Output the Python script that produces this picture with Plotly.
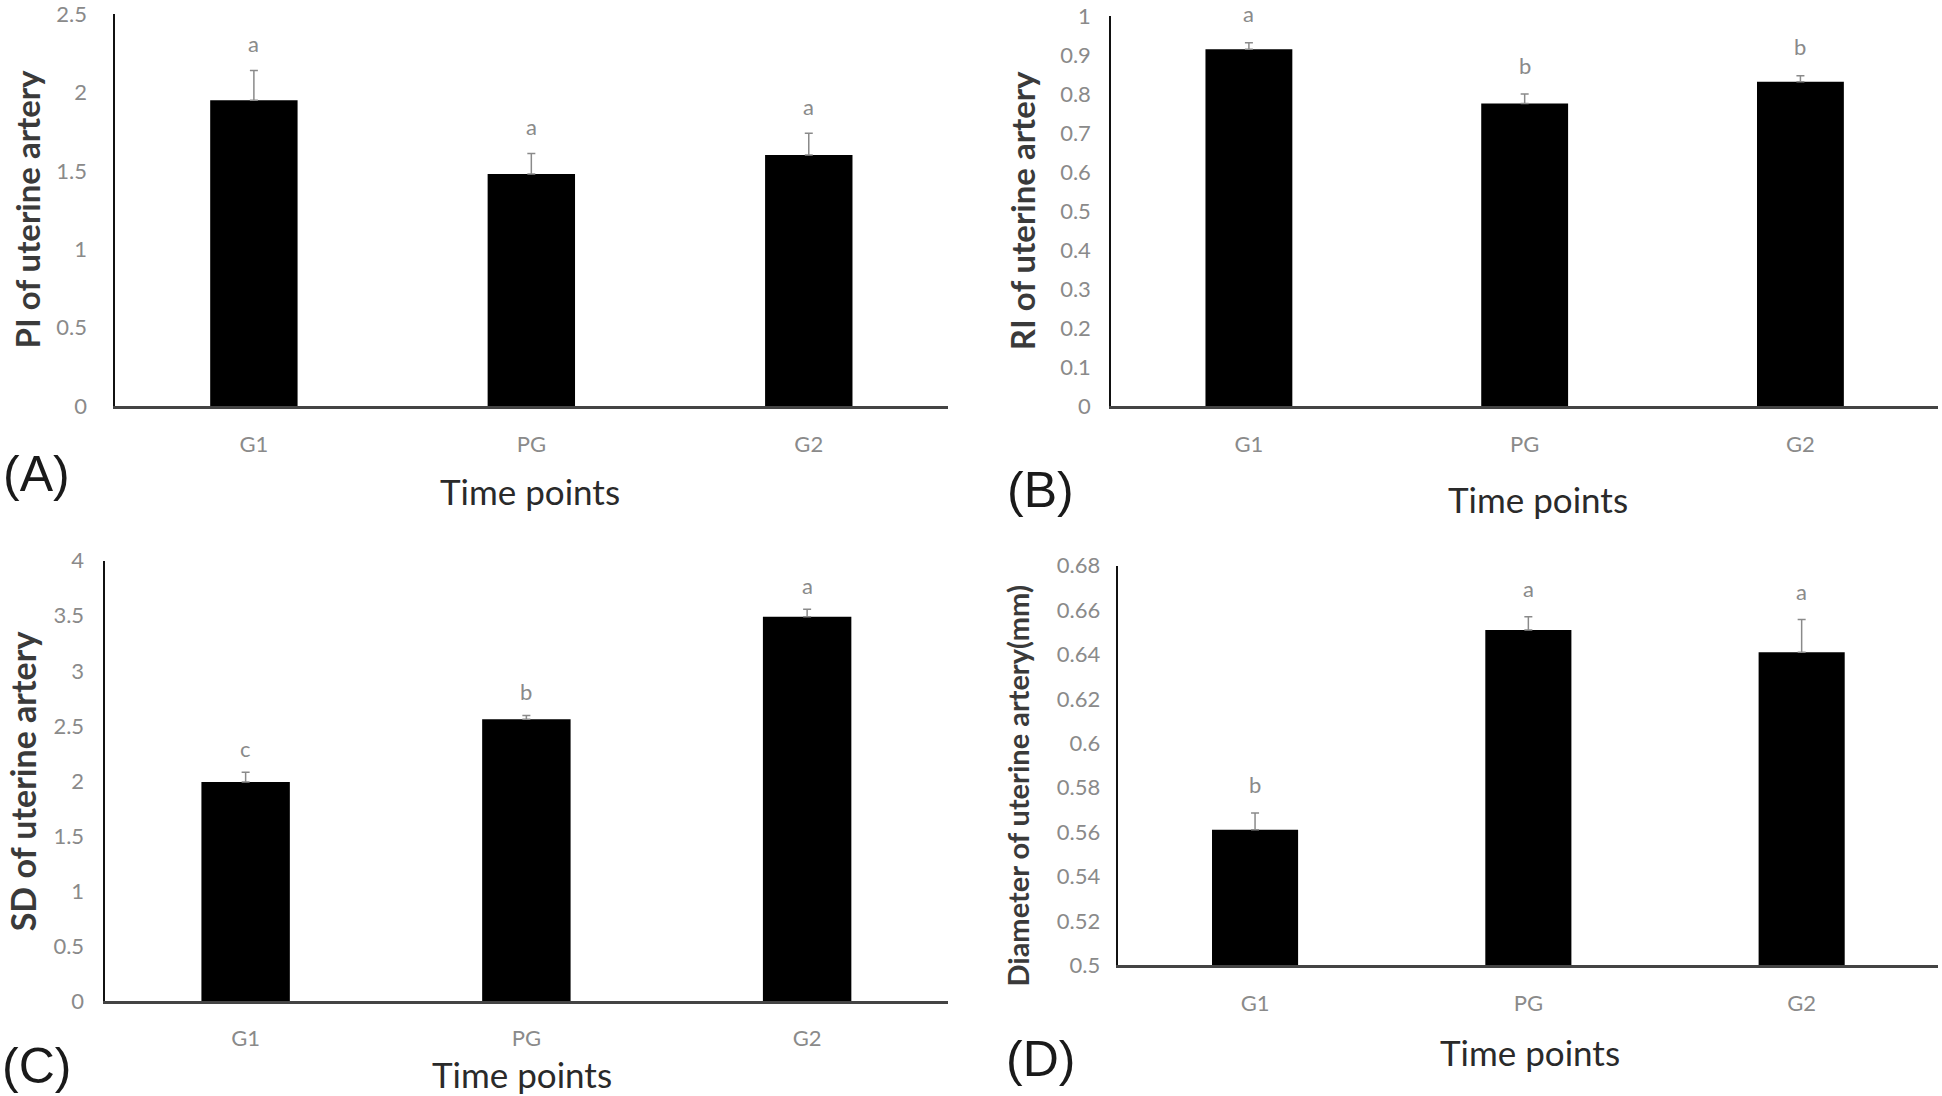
import plotly.graph_objects as go

categories = ["G1", "PG", "G2"]

pi_mean = [1.95, 1.48, 1.60]
pi_err = [0.19, 0.13, 0.14]
pi_letters = ["a", "a", "a"]

ri_mean = [0.915, 0.776, 0.832]
ri_err = [0.017, 0.024, 0.015]
ri_letters = ["a", "b", "b"]

sd_mean = [1.99, 2.56, 3.49]
sd_err = [0.09, 0.035, 0.07]
sd_letters = ["c", "b", "a"]

dia_mean = [0.561, 0.651, 0.641]
dia_err = [0.0076, 0.006, 0.0147]
dia_letters = ["b", "a", "a"]

pi_ticks = [0, 0.5, 1, 1.5, 2, 2.5]
ri_ticks = [0, 0.1, 0.2, 0.3, 0.4, 0.5, 0.6, 0.7, 0.8, 0.9, 1]
sd_ticks = [0, 0.5, 1, 1.5, 2, 2.5, 3, 3.5, 4]
dia_ticks = [0.5, 0.52, 0.54, 0.56, 0.58, 0.6, 0.62, 0.64, 0.66, 0.68]

panels = [
    dict(mean=pi_mean, err=pi_err, letters=pi_letters, ticks=pi_ticks, rng=[0, 2.5],
         xd=[0.0593, 0.4879], yd=[0.6333, 1.0], xs=17, ysoff=22, lshift=27,
         title="PI of uterine artery", tsize=33, tx=0.014, ty=0.8174,
         label="(A)", lx=0.019, ly=0.5695, tpx=0.273, tpy=0.5534),
    dict(mean=ri_mean, err=ri_err, letters=ri_letters, ticks=ri_ticks, rng=[0, 1],
         xd=[0.5721, 0.9981], yd=[0.6333, 0.998], xs=17, ysoff=14, lshift=29,
         title="RI of uterine artery", tsize=33, tx=0.526, ty=0.816,
         label="(B)", lx=0.536, ly=0.5545, tpx=0.792, tpy=0.5465),
    dict(mean=sd_mean, err=sd_err, letters=sd_letters, ticks=sd_ticks, rng=[0, 4],
         xd=[0.0542, 0.4879], yd=[0.0764, 0.4886], xs=16, ysoff=15, lshift=24,
         title="SD of uterine artery", tsize=34, tx=0.0115, ty=0.2825,
         label="(C)", lx=0.019, ly=0.0163, tpx=0.269, tpy=0.008),
    dict(mean=dia_mean, err=dia_err, letters=dia_letters, ticks=dia_ticks, rng=[0.5, 0.68],
         xd=[0.5759, 0.9981], yd=[0.1101, 0.4840], xs=17, ysoff=12, lshift=28,
         title="Diameter of uterine artery(mm)", tsize=29, tx=0.524, ty=0.2779,
         label="(D)", lx=0.536, ly=0.022, tpx=0.788, tpy=0.029),
]

fig = go.Figure()
annotations = []
tick_font = dict(family="Lato, Carlito, sans-serif", size=22, color="#8a8a8a")

for i, p in enumerate(panels):
    n = "" if i == 0 else str(i + 1)
    xa, ya = "x" + n, "y" + n
    fig.add_trace(go.Bar(
        x=categories, y=[m - p["rng"][0] for m in p["mean"]], base=p["rng"][0],
        width=0.315, marker=dict(color="black", line=dict(width=0)),
        error_y=dict(type="data", array=p["err"], arrayminus=[0, 0, 0], symmetric=False,
                     color="#8a8a8a", thickness=1.5, width=4),
        xaxis=xa, yaxis=ya, showlegend=False, hoverinfo="skip",
    ))
    fig.update_layout(**{
        "xaxis" + n: dict(domain=p["xd"], anchor=ya, showline=True, linecolor="#444",
                          linewidth=2.5, ticks="", showgrid=False, zeroline=False,
                          tickfont=tick_font, ticklabelstandoff=p["xs"],
                          range=[-0.5, 2.5], fixedrange=True),
        "yaxis" + n: dict(domain=p["yd"], anchor=xa, showline=True, linecolor="#111",
                          linewidth=1.5, ticks="", showgrid=False, zeroline=False,
                          range=p["rng"], tickvals=p["ticks"],
                          ticktext=[("%g" % t) for t in p["ticks"]],
                          ticklabeloverflow="allow",
                          tickfont=tick_font, ticklabelstandoff=p["ysoff"], fixedrange=True),
    })
    for c, m, e, L in zip(categories, p["mean"], p["err"], p["letters"]):
        annotations.append(dict(x=c, y=m + e, xref=xa, yref=ya, text=L, showarrow=False,
                                yanchor="middle", yshift=p["lshift"],
                                font=dict(family="Lato, sans-serif", size=22, color="#8a8a8a")))
    annotations.append(dict(x=p["tx"], y=p["ty"], xref="paper", yref="paper", text=p["title"],
                            textangle=-90, showarrow=False, xanchor="center", yanchor="middle",
                            font=dict(family="Lato, sans-serif", size=p["tsize"], color="#3a3a3a",
                                      weight="bold")))
    annotations.append(dict(x=p["lx"], y=p["ly"], xref="paper", yref="paper", text=p["label"],
                            showarrow=False, xanchor="center", yanchor="middle",
                            font=dict(family="Liberation Sans, Arial, sans-serif", size=50,
                                      color="#1a1a1a")))
    annotations.append(dict(x=p["tpx"], y=p["tpy"], xref="paper", yref="paper", text="Time points",
                            showarrow=False, xanchor="center", yanchor="middle",
                            font=dict(family="Lato, sans-serif", size=35, color="#2a2a2a")))

fig.update_layout(
    width=1942, height=1096, margin=dict(l=0, r=0, t=0, b=0),
    paper_bgcolor="white", plot_bgcolor="white",
    annotations=annotations, bargap=0.68,
)

fig.write_html(
    "out.html",
    config={"displayModeBar": False},
    post_script="document.body.style.margin='0';",
)
